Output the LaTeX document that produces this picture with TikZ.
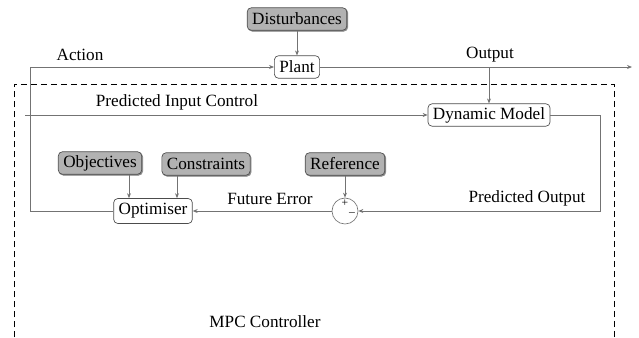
\documentclass[tikz,border=0pt]{standalone}
\usepackage{fontspec}
\setmainfont{Liberation Serif}
\usetikzlibrary{arrows.meta}
\tikzset{
  blk/.style={draw=black!70, rounded corners=2.5pt, fill=white, inner xsep=3pt, inner ysep=0pt, minimum height=13.5pt, font=\fontsize{10.3}{12}\selectfont},
  gblk/.style={blk, fill=black!30, preaction={draw=black!45, fill=black!45, transform canvas={shift={(0.6pt,-0.6pt)}}}},
  conn/.style={draw=black!55, line width=0.5pt},
  arr/.style={conn, -{Stealth[length=3pt,width=2.4pt]}},
  lbl/.style={font=\fontsize{10.3}{12}\selectfont},
  dashbox/.style={dash pattern=on 3.6pt off 2.4pt, line width=0.5pt},
}
\begin{document}
\begin{tikzpicture}[x=0.6pt,y=-0.6pt]
\useasboundingbox (0,0) rectangle (639,337);
% dashed MPC boundary (open at the bottom edge of the picture)
\coordinate (bl) at (14,337);
\coordinate (tl) at (14,84);
\coordinate (tr) at (614,84);
\coordinate (br) at (614,337);
\draw[dashbox] (bl) -- (tl) -- (tr) -- (br);
% nodes
\node[gblk] (dist) at (297,19) {Disturbances};
\node[blk] (plant) at (297,67) {Plant};
\node[blk] (dyn) at (489,115) {Dynamic Model};
\node[gblk] (obj) at (100,163) {Objectives};
\node[gblk] (cons) at (206,164) {Constraints};
\node[gblk] (ref) at (345,164) {Reference};
\node[blk, minimum height=15pt] (opt) at (153,211) {Optimiser};
\node[draw=black!55, circle, minimum size=15.6pt, inner sep=0pt] (sum) at (345,211) {};
\node[font=\fontsize{7}{8}\selectfont, inner sep=0pt] (plus) at (345,203) {+};
\node[font=\fontsize{7}{8}\selectfont, inner sep=0pt] (minus) at (352,214) {--};
% coordinates
\coordinate (actc) at (30,211);
\coordinate (outend) at (632,67);
\coordinate (pic) at (25,115);
\coordinate (poc) at (600,211);
% connectors
\draw[arr] (dist) -- (plant);
\draw[arr] (opt.west) -- (actc) |- (plant.west);
\draw[arr] (plant.east) -- (outend);
\draw[arr] (dyn.north |- plant.east) -- (dyn.north);
\draw[arr] (pic) -- (dyn.west);
\draw[arr] (dyn.east) -| (poc) -- (sum.east);
\draw[arr] (ref) -- (sum);
\draw[arr] (sum.west) -- (opt.east);
\draw[arr] (obj.south -| 129,0) -- (opt.north -| 129,0);
\draw[arr] (cons.south -| 177,0) -- (opt.north -| 177,0);
% labels
\node[lbl] (lact) at (80,55) {Action};
\node[lbl] (lout) at (490,55) {Output};
\node[lbl] (lpic) at (177,102) {Predicted Input Control};
\node[lbl] (lfe) at (270,199) {Future Error};
\node[lbl] (lpo) at (527,198) {Predicted Output};
\node[lbl] (lmpc) at (265,322) {MPC Controller};
\end{tikzpicture}
\end{document}
